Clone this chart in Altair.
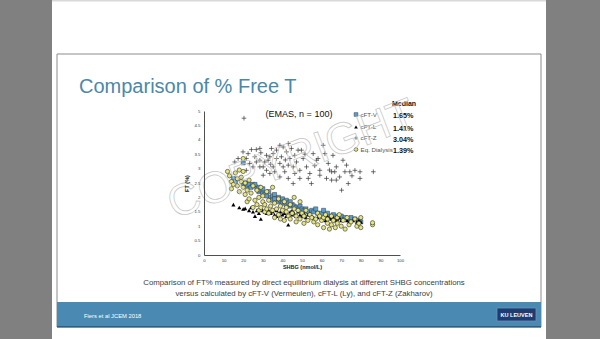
import altair as alt
import pandas as pd

# ---------------- data ----------------
series_names = ["cFT-V", "cFT-L", "cFT-Z", "Eq. Dialysis"]
medians = ["1.65%", "1.41%", "3.04%", "1.39%"]
x_ticks = [0, 10, 20, 30, 40, 50, 60, 70, 80, 90, 100]
y_ticks = [0, 0.5, 1, 1.5, 2, 2.5, 3, 3.5, 4, 4.5, 5]

cft_z = [(20.4,4.75),(15.7,3.23),(19.9,3.58),(22.5,3.52),(24.2,3.66),(26.7,3.66),(28.5,3.70),
         (25.9,3.41),(28.5,3.29),(31.0,3.23),(32.7,3.29),(30.2,3.06),(31.9,2.94),(33.6,3.41),
         (35.3,3.52),(37.0,3.64),(38.7,3.81),(40.4,3.75),(42.1,3.58),(43.0,3.87),(44.6,3.70),
         (46.3,3.46),(48.0,3.64),(37.0,3.35),(38.7,3.18),(40.4,3.06),(41.2,2.89),(43.0,2.66),
         (35.3,3.06),(36.1,2.89),(33.6,2.83),(30.2,2.77),(21.6,2.94),(23.3,3.18),(45.5,3.06),
         (47.2,3.23),(48.9,2.94),(50.6,3.35),(52.3,3.06),(54.0,2.83),(55.7,3.52),(57.4,3.29),
         (59.1,2.94),(60.8,3.81),(61.7,3.52),(63.4,3.18),(65.1,2.89),(65.8,3.46),(67.5,3.06),
         (69.2,2.71),(70.2,2.25),(70.9,3.29),(72.7,3.12),(74.4,2.89),(77.0,2.94),(79.6,2.89),
         (79.6,2.66),(86.4,2.89),(58.2,3.35),(49.7,3.64),(43.8,3.35),(26.7,3.23),(28.5,3.06),
         (25.0,3.06),(21.6,3.35),(17.4,3.35),(48.9,2.66),(45.5,2.48),(38.7,2.71),(62.5,2.66),
         (65.1,2.60),(67.5,2.60),(53.2,2.66),(54.8,2.48),(59.1,2.77),(31.9,3.46),(34.4,3.70),
         (46.3,2.83),(43.0,3.12),(39.5,3.41),(71.9,2.89),(66.7,2.89),(73.6,2.48),(29.0,3.55),
         (34.0,3.15),(41.5,3.30),(51.5,3.50),(56.5,3.10),(64.0,2.95),(75.5,2.75)]

cft_v = [(15,2.65),(16,2.55),(20,3.2),(20,2.45),(21,2.5),(22,2.4),(23,2.45),(24,2.35),(25,2.45),
         (26,2.4),(27,2.3),(28,2.35),(28,2.2),(29,2.25),(30,2.15),(31,2.1),(32,2.05),(33,2.2),
         (34,2.0),(35,2.05),(35,1.9),(36,2.1),(37,1.95),(38,2.0),(38,1.85),(39,1.9),(40,1.95),
         (40,1.8),(41,1.85),(42,1.9),(42,1.75),(43,1.8),(44,1.7),(45,1.75),(46,1.7),(47,1.65),
         (48,1.6),(49,1.7),(50,1.6),(51,1.55),(52,1.6),(53,1.5),(55,1.55),(56,1.5),(58,1.45),
         (60,1.45),(61,1.55),(62,1.4),(63,1.45),(65,1.35),(66,1.4),(68,1.35),(69,1.3),(70,1.35),
         (72,1.3),(74,1.25),(75,1.3),(77,1.25),(79,1.2),(80,1.15),(26,2.45),(30,2.3),(44,1.85),
         (36,1.95),(57,1.6)]

cft_l = [(15,1.75),(18,1.65),(20,1.6),(21,1.62),(23,1.55),(24,1.65),(25,1.5),(26,1.35),(27,1.55),
         (28,1.45),(29,1.25),(30,1.55),(31,1.5),(32,1.45),(33,1.55),(34,1.45),(35,1.5),(36,1.4),
         (37,1.35),(38,1.45),(39,1.5),(40,1.4),(41,1.45),(42,1.35),(43,1.05),(44,1.5),(45,1.4),
         (46,1.45),(47,1.35),(48,1.5),(49,1.4),(50,1.35),(51,1.45),(52,1.3),(53,1.4),(55,1.35),
         (56,1.3),(58,1.3),(59,1.35),(60,1.25),(61,1.3),(62,1.2),(64,1.3),(65,1.25),(66,1.3),
         (67,1.2),(68,1.25),(69,1.3),(70,1.2),(71,1.25),(73,1.2),(74,1.15),(76,1.2),(78,1.15),
         (79,1.2),(80,1.15),(37,1.55),(45,1.55),(54,1.45),(63,1.35)]

eq_dialysis = [(12,2.9),(13,2.75),(14,2.55),(14,2.3),(15,2.45),(16,2.85),(17,2.65),(17,2.4),(18,2.95),
               (18,2.2),(19,2.55),(19,2.7),(20,3.35),(20,2.9),(20,2.35),(21,2.1),(21,2.5),(22,1.85),
               (22,2.25),(23,2.6),(23,1.95),(24,2.15),(25,1.65),(25,2.4),(26,1.9),(27,2.25),(27,1.75),
               (28,2.0),(28,1.55),(29,2.35),(29,1.65),(30,1.85),(30,2.05),(31,1.75),(31,1.5),(32,2.2),
               (32,1.6),(33,1.9),(33,1.45),(34,1.7),(35,2.35),(35,1.55),(36,1.8),(36,1.3),(37,1.6),
               (38,1.95),(38,1.4),(39,1.7),(39,1.25),(40,1.55),(41,1.85),(41,1.2),(42,1.5),(42,1.65),
               (43,1.35),(44,1.75),(44,1.25),(45,1.45),(46,2.0),(46,1.6),(47,1.15),(47,1.35),(48,1.55),
               (49,1.85),(49,1.25),(50,1.45),(51,1.1),(51,1.35),(52,1.55),(53,1.2),(54,1.4),(55,1.3),
               (56,1.15),(57,1.25),(58,1.05),(58,1.45),(59,1.35),(60,1.2),(61,0.95),(61,1.3),(62,1.4),
               (63,1.1),(63,1.25),(64,0.9),(65,1.35),(65,1.05),(66,1.2),(67,0.95),(68,1.3),(68,1.1),
               (69,1.4),(70,1.0),(71,1.2),(72,0.9),(73,1.3),(74,1.05),(75,1.15),(77,1.25),(78,1.0),
               (79,1.1),(80,1.3),(80,0.95),(86,1.05),(86,1.12)]

# ---------------- layout constants ----------------
FONT = "Liberation Sans"
OX, OY = 204, 111          # plot origin on the page
PW, PH = 196, 144          # plot area size

def px(v):  # absolute page x -> relative
    return v - OX

def py(v):
    return v - OY

one = alt.Data(values=[{"a": 1}])

def df(points):
    return pd.DataFrame(points, columns=["x", "y"])

xs = alt.Scale(domain=[0, 100], nice=False)
ys = alt.Scale(domain=[0, 5], nice=False)

def rect(x1, y1, x2, y2, **kw):
    return alt.Chart(one).mark_rect(**kw).encode(
        x=alt.value(px(x1)), x2=alt.value(px(x2)), y=alt.value(py(y1)), y2=alt.value(py(y2)))

def text(t, x, y, **kw):
    return alt.Chart(one).mark_text(text=t, font=FONT, **kw).encode(
        x=alt.value(px(x)), y=alt.value(py(y)))

# background / slide decoration
slide = rect(52, 0, 546, 339, color="white")
topline = rect(52, 0, 546, 1.5, color="#d9d9d9")
frame = rect(57, 54, 541, 327, fill="white", stroke="#8c8c8c", strokeWidth=1)
bar = rect(57, 302, 541, 327, color="#4a8ab2")
barline = rect(57, 326, 541, 327.5, color="#2f5f80")
kubox = rect(497, 308, 536, 321, fill="#1d3d72", stroke="#6f8fb5", strokeWidth=0.8)
kutext = text("KU LEUVEN", 516.5, 314.5, fontSize=5.5, fontWeight="bold", color="white",
              align="center", baseline="middle")
footer = text("Fiers et al JCEM 2018", 84, 316, fontSize=5.8, color="white", align="left",
              baseline="middle")
title = text("Comparison of % Free T", 79, 93, fontSize=20, color="#4a88aa", align="left",
             baseline="alphabetic")
cap1 = text("Comparison of FT% measured by direct equilibrium dialysis at different SHBG concentrations",
            304, 285, fontSize=7.8, color="#404040", align="center", baseline="alphabetic")
cap2 = text("versus calculated by cFT-V (Vermeulen), cFT-L (Ly), and cFT-Z (Zakharov)",
            304, 295.5, fontSize=7.8, color="#404040", align="center", baseline="alphabetic")

# axes + scatter series
plus_path = "M-1,0L1,0M0,-1L0,1"

axis_x = alt.Axis(values=x_ticks, grid=False, ticks=False, labelFontSize=4.3, labelColor="#333",
                  labelPadding=3, domainColor="#222", domainWidth=0.8, title="SHBG (nmol/L)",
                  titleFontSize=5.5, titleFontWeight="bold", titlePadding=2, titleColor="#222",
                  labelFont=FONT, titleFont=FONT, zindex=1, labelOverlap=False, labelFlush=False)
axis_y = alt.Axis(values=y_ticks, grid=False, ticks=False, labelFontSize=4.3, labelColor="#333",
                  labelPadding=4, domainColor="#222", domainWidth=0.8, title="FT (%)", format="~g",
                  titleFontSize=5.5, titleFontWeight="bold", titlePadding=5, titleColor="#222",
                  labelFont=FONT, titleFont=FONT, zindex=1, labelOverlap=False, labelFlush=False)

X = alt.X("x:Q", scale=xs, axis=axis_x)
Y = alt.Y("y:Q", scale=ys, axis=axis_y)

v_layer = alt.Chart(df(cft_v)).mark_point(shape="square", filled=True, fill="#5b9fd0",
                                          stroke="#3a3a3a", strokeWidth=0.5, size=17, opacity=1).encode(x=X, y=Y)
l_layer = alt.Chart(df(cft_l)).mark_point(shape="triangle-up", filled=True, color="#000000",
                                          size=17, opacity=1).encode(x=X, y=Y)
z_layer = alt.Chart(df(cft_z)).mark_point(shape=plus_path, filled=False, stroke="#3a3a3a",
                                          strokeWidth=0.7, size=22, opacity=1).encode(x=X, y=Y)
e_layer = alt.Chart(df(eq_dialysis)).mark_point(shape="circle", filled=True, fill="#e6e67c",
                                                stroke="#2f2f2f", strokeWidth=0.6, size=18, opacity=1).encode(x=X, y=Y)

emas = text("(EMAS, n = 100)", 299, 114, fontSize=9, color="#111", align="center", baseline="middle")

# legend with medians
leg_y = [114.5, 127, 138, 149.5]
leg_layers = [text("Median", 392, 103.5, fontSize=7, fontWeight="bold", color="#111",
                   align="left", baseline="middle")]
sym_styles = [
    dict(shape="square", filled=True, fill="#5b9fd0", stroke="#3a3a3a", strokeWidth=0.5, size=14),
    dict(shape="triangle-up", filled=True, color="#000000", size=14),
    dict(shape=plus_path, filled=False, stroke="#555", strokeWidth=0.7, size=14),
    dict(shape="circle", filled=True, fill="#e6e67c", stroke="#2f2f2f", strokeWidth=0.6, size=14),
]
for name, med, yy, st in zip(series_names, medians, leg_y, sym_styles):
    leg_layers.append(alt.Chart(one).mark_point(opacity=1, **st).encode(
        x=alt.value(px(356)), y=alt.value(py(yy))))
    leg_layers.append(text(name, 360.5, yy, fontSize=6.2, color="#555", align="left", baseline="middle"))
    leg_layers.append(text(med, 393, yy + 1.5, fontSize=7.2, fontWeight="bold", color="#111",
                           align="left", baseline="middle"))

watermark = text("COPYRIGHT", 292, 160, fontSize=44, angle=339, fillOpacity=0, stroke="#c4c4c4",
                 strokeWidth=0.7, align="center", baseline="middle")

chart = alt.layer(
    slide, topline, frame, bar, barline, kubox, kutext, footer, title, cap1, cap2,
    v_layer, l_layer, z_layer, e_layer, emas, *leg_layers, watermark
).properties(
    width=PW, height=PH,
    padding={"left": OX, "top": OY, "right": 600 - OX - PW, "bottom": 339 - OY - PH},
    autosize=alt.AutoSizeParams(type="none"),
    background="#808080",
).configure_view(stroke=None).configure_axis(labelOverlap=False)

chart.save("out.html", embed_options={"renderer": "svg", "actions": False})
